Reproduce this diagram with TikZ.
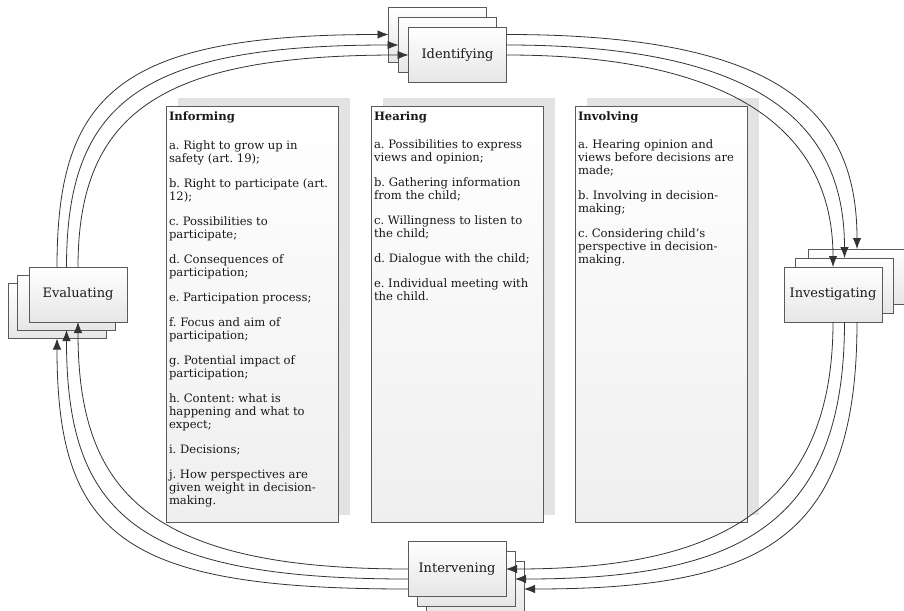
\documentclass[tikz,border=0pt]{standalone}
\usepackage{fontspec}
\setmainfont{DejaVu Serif}
\usetikzlibrary{arrows.meta,backgrounds}
\definecolor{edge}{HTML}{5A5A5A}
\definecolor{wire}{HTML}{333333}
\definecolor{shadowc}{HTML}{E3E3E3}
\definecolor{boxbot}{HTML}{E6E6E6}
\definecolor{cboxbot}{HTML}{EFEFEF}
\begin{document}
\begin{tikzpicture}[x=1pt,y=-1pt,
  stbox/.style={draw=edge, line width=0.8pt, minimum width=98pt, minimum height=55pt,
    inner sep=0pt, outer sep=0pt, top color=white, bottom color=boxbot,
    font=\fontsize{13}{15}\selectfont, text=black!90},
  cbox/.style={draw=edge, line width=0.8pt, minimum width=172pt, minimum height=416pt,
    inner sep=0pt, outer sep=0pt, top color=white, bottom color=cboxbot},
  shbox/.style={fill=shadowc, minimum width=172pt, minimum height=417pt, inner sep=0pt, outer sep=0pt},
  txt/.style={inner sep=0pt, outer sep=0pt, anchor=base west, text=black!90},
  wireline/.style={draw=wire, line width=0.8pt, -{Latex[length=11pt,width=8.5pt]}},
]
\useasboundingbox (0,0) rectangle (904,610);
\clip (0,0) rectangle (904,610);
\begin{scope}[on background layer]
  \fill[white] (0,0) rectangle (904,610);
\end{scope}

% content box shadows
\node[shbox] (infS) at (263.5,306.5) {};
\node[shbox] (hearS) at (468.5,306.5) {};
\node[shbox] (invS) at (672.5,306.5) {};
% content boxes
\node[cbox] (inf) at (252,314) {};
\node[cbox] (hear) at (457,314) {};
\node[cbox] (inv) at (661.5,314) {};

\newcommand{\boxtext}[1]{\parbox[t]{178pt}{\fontsize{11.6}{13}\selectfont\frenchspacing\raggedright\setlength{\parskip}{12pt}#1}}

\node[txt] (infT) at (169,120) {\boxtext{\textbf{Informing}\par\vspace{4pt}
a. Right to grow up in\\ safety (art. 19);\par
b. Right to participate (art.\\ 12);\par
c. Possibilities to\\ participate;\par
d. Consequences of\\ participation;\par
e. Participation process;\par
f. Focus and aim of\\ participation;\par
g. Potential impact of\\ participation;\par
h. Content: what is\\ happening and what to\\ expect;\par
i. Decisions;\par
j. How perspectives are\\ given weight in decision-\\ making.}};

\node[txt] (hearT) at (374,120) {\boxtext{\textbf{Hearing}\par\vspace{3pt}
a. Possibilities to express\\ views and opinion;\par
b. Gathering information\\ from the child;\par
c. Willingness to listen to\\ the child;\par
d. Dialogue with the child;\par
e. Individual meeting with\\ the child.}};

\node[txt] (invT) at (578,120) {\boxtext{\textbf{Involving}\par\vspace{3pt}
a. Hearing opinion and\\ views before decisions are\\ made;\par
b. Involving in decision-\\ making;\par
c. Considering child’s\\ perspective in decision-\\ making.}};

% Identifying
\node[stbox] (idA) at (437.5,34.5) {};
\node[stbox] (idB) at (447.5,45) {};
\node[stbox] (idC) at (457.5,55) {Identifying};
% Investigating
\node[stbox] (inA) at (857,276.5) {};
\node[stbox] (inB) at (844.5,285.5) {};
\node[stbox] (inC) at (833,294.5) {Investigating};
% Intervening
\node[stbox] (itA) at (475,589) {};
\node[stbox] (itB) at (466,579) {};
\node[stbox] (itC) at (457,569) {Intervening};
% Evaluating
\node[stbox] (evA) at (57,311) {};
\node[stbox] (evB) at (66.5,302.5) {};
\node[stbox] (evC) at (78,294.5) {Evaluating};

% Evaluating -> Identifying
\draw[wireline] (evA.north |- evC.north) .. controls +(0,-173) and +(-270,0) .. (idA.west);
\draw[wireline] (evB.north |- evC.north) .. controls +(0,-167) and +(-255,0) .. (idB.west);
\draw[wireline] (evC.north) .. controls +(0,-160) and +(-240,0) .. (idC.west);
% Identifying -> Investigating
\draw[wireline] (idA.east -| idC.east) .. controls +(270,0) and +(0,-140) .. (inA.north);
\draw[wireline] (idB.east -| idC.east) .. controls +(260,0) and +(0,-130) .. (inB.north);
\draw[wireline] (idC.east) .. controls +(250,0) and +(0,-120) .. (inC.north);
% Investigating -> Intervening
\draw[wireline] (inA.south |- inC.south) .. controls +(0,217) and +(240,0) .. (itA.east);
\draw[wireline] (inB.south |- inC.south) .. controls +(0,206) and +(220,0) .. (itB.east);
\draw[wireline] (inC.south) .. controls +(0,195) and +(200,0) .. (itC.east);
% Intervening -> Evaluating
\draw[wireline] (itA.west -| itC.west) .. controls +(-282,0) and +(0,200) .. (evA.south);
\draw[wireline] (itB.west -| itC.west) .. controls +(-271,0) and +(0,185) .. (evB.south);
\draw[wireline] (itC.west) .. controls +(-260,0) and +(0,170) .. (evC.south);
\end{tikzpicture}
\end{document}
